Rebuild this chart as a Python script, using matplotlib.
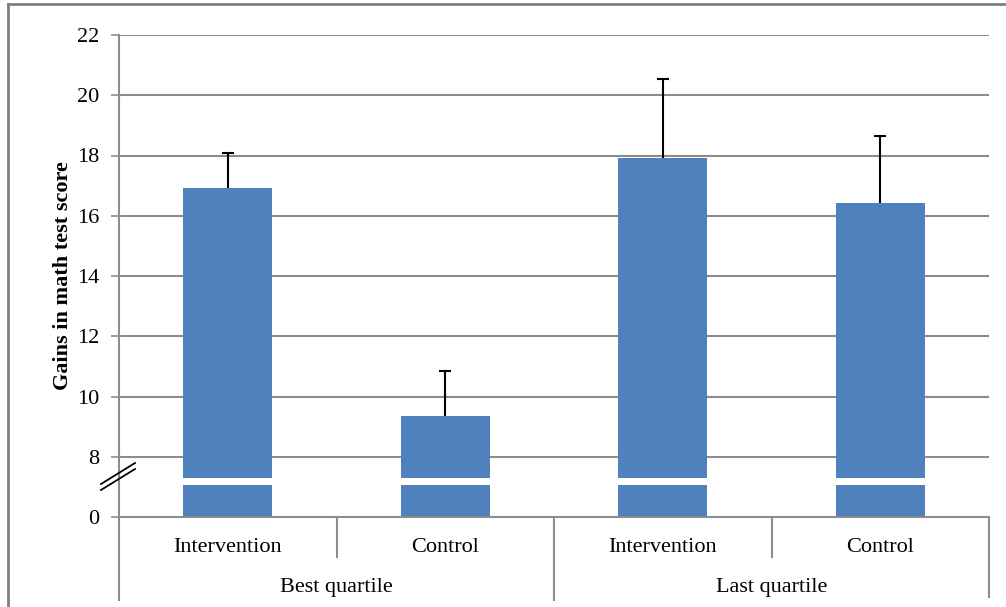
import matplotlib
matplotlib.use("Agg")
import matplotlib.pyplot as plt
from matplotlib.lines import Line2D

plt.rcParams['font.family'] = ['Liberation Serif', 'DejaVu Serif']

categories = ['Intervention', 'Control', 'Intervention', 'Control']
groups = ['Best quartile', 'Last quartile']
gains = [16.92, 9.36, 17.92, 16.42]
upper_err = [1.16, 1.49, 2.62, 2.23]
tick_vals = [6, 8, 10, 12, 14, 16, 18, 20, 22]
tick_labels = ['0', '8', '10', '12', '14', '16', '18', '20', '22']

W, H = 1006, 607
fig = plt.figure(figsize=(W / 100, H / 100), dpi=100)
ax = fig.add_axes([119 / W, 1 - 517 / H, 870 / W, 482 / H])

grid_c = '#8c8c8c'
base = 6  # the axis is broken: its bottom stands for 0
x = list(range(len(categories)))
ax.bar(x, [g - base for g in gains], bottom=base, width=0.41, color='#4F81BD', zorder=2)
_, caps, _ = ax.errorbar(x, gains, yerr=[[0] * 4, upper_err], fmt='none', ecolor='black',
                         elinewidth=1.5, capsize=4.3, capthick=1.5, zorder=3)
caps[0].set_visible(False)  # only the upper cap is shown
# white gap across the bars at the break
ax.bar(x, [0.22] * 4, bottom=7.07, width=0.43, color='white', zorder=2.5)

ax.set_xlim(-0.5, 3.5)
ax.set_ylim(6, 22)
ax.set_yticks(tick_vals)
ax.set_yticklabels(tick_labels, fontsize=16)
for v in tick_vals[1:]:
    ax.axhline(v, color=grid_c, lw=1.5, zorder=1)
ax.tick_params(axis='y', length=6, width=1.2, color=grid_c, pad=8)
ax.tick_params(axis='x', length=0, labelbottom=False)
for s in ['top', 'right']:
    ax.spines[s].set_visible(False)
ax.spines['left'].set_color(grid_c)
ax.spines['left'].set_linewidth(1.5)
ax.spines['bottom'].set_color(grid_c)
ax.spines['bottom'].set_linewidth(1.5)

ax.set_ylabel('Gains in math test score', fontsize=16, fontweight='bold', labelpad=3)

# category and group labels with separators below the axis
tr = ax.get_xaxis_transform()
for i, c in enumerate(categories):
    ax.text(i, -0.064, c, transform=tr, ha='center', va='center', fontsize=16)
for j, g in enumerate(groups):
    ax.text(2 * j + 0.5, -0.146, g, transform=tr, ha='center', va='center', fontsize=16)
for xs, y0 in [(-0.5, -0.172), (0.5, -0.083), (1.5, -0.172), (2.5, -0.083), (3.5, -0.166)]:
    ax.plot([xs, xs], [0, y0], transform=tr, color=grid_c, lw=1.5, clip_on=False)

# break marks on the y axis
for dy in [0, 6]:
    fig.add_artist(Line2D([101 / W, 135 / W], [1 - (490 + dy - 6) / H, 1 - (469 + dy - 6) / H],
                          color='black', lw=1.3))

# frame of the original picture
fig.add_artist(Line2D([8 / W, 1], [1 - 4 / H, 1 - 4 / H], color='#7f7f7f', lw=2))
fig.add_artist(Line2D([8 / W, 8 / W], [0, 1 - 4 / H], color='#7f7f7f', lw=2))

fig.savefig('out.png', dpi=100)
